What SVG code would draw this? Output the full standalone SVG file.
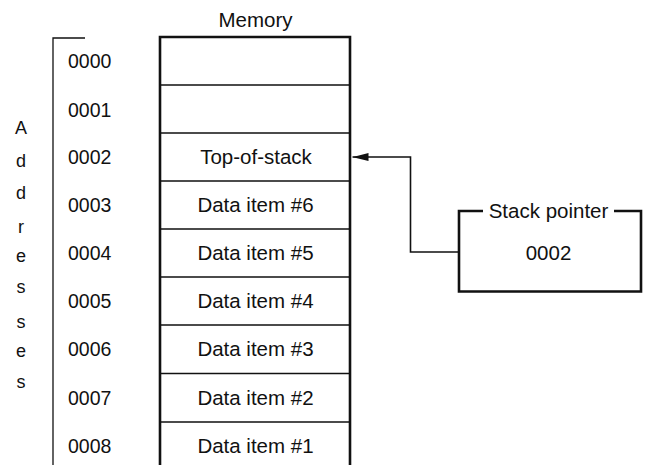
<svg xmlns="http://www.w3.org/2000/svg" width="650" height="465" viewBox="0 0 650 465">
<style>
text{font-family:"Liberation Sans",Arial,sans-serif;fill:#111;}
.t{font-size:20.5px;text-anchor:middle;}
.a{font-size:19.5px;}
.v{font-size:18px;text-anchor:middle;}
.thick{fill:none;stroke:#111;stroke-width:2.6;}
.thin{fill:none;stroke:#111;stroke-width:1.3;}
.conn{fill:none;stroke:#111;stroke-width:1.6;}
</style>
<defs>
<marker id="ah" markerWidth="16" markerHeight="10" refX="16" refY="5" orient="auto" markerUnits="userSpaceOnUse">
<path d="M0,1 L16,5 L0,9 Z" fill="#111"/>
</marker>
</defs>
<rect width="650" height="465" fill="#fff"/>
<text class="t" x="255.5" y="26.5">Memory</text>
<g id="addresses-label">
<path class="thin" d="M85,38 H53 V465"/>
<text class="v" x="21" y="134">A</text>
<text class="v" x="21" y="167">d</text>
<text class="v" x="21" y="199">d</text>
<text class="v" x="21" y="233">r</text>
<text class="v" x="21" y="262">e</text>
<text class="v" x="21" y="293">s</text>
<text class="v" x="21" y="328">s</text>
<text class="v" x="21" y="357">e</text>
<text class="v" x="21" y="388">s</text>
</g>
<g id="memory">
<path class="thick" d="M160,465 V37 H350 V465"/>
<path class="thin" d="M160,85 H350 M160,133 H350 M160,181 H350 M160,229 H350 M160,277 H350 M160,325 H350 M160,373.5 H350 M160,422 H350"/>
</g>
<g id="addr-0000"><text class="a" x="68" y="68">0000</text></g>
<g id="addr-0001"><text class="a" x="68" y="117">0001</text></g>
<g id="addr-0002"><text class="a" x="68" y="164">0002</text></g>
<g id="addr-0003"><text class="a" x="68" y="212">0003</text></g>
<g id="addr-0004"><text class="a" x="68" y="260">0004</text></g>
<g id="addr-0005"><text class="a" x="68" y="308">0005</text></g>
<g id="addr-0006"><text class="a" x="68" y="356">0006</text></g>
<g id="addr-0007"><text class="a" x="68" y="405">0007</text></g>
<g id="addr-0008"><text class="a" x="68" y="453">0008</text></g>
<g id="cell-0002"><text class="t" x="256" y="164">Top-of-stack</text></g>
<g id="cell-0003"><text class="t" x="255.5" y="212">Data item #6</text></g>
<g id="cell-0004"><text class="t" x="255.5" y="260">Data item #5</text></g>
<g id="cell-0005"><text class="t" x="255.5" y="308">Data item #4</text></g>
<g id="cell-0006"><text class="t" x="255.5" y="356">Data item #3</text></g>
<g id="cell-0007"><text class="t" x="255.5" y="405">Data item #2</text></g>
<g id="cell-0008"><text class="t" x="255.5" y="453">Data item #1</text></g>
<g id="stack-pointer">
<path class="thick" d="M483,211 H459 V291.5 H641 V211 H614"/>
<text class="t" x="548.5" y="217.5">Stack pointer</text>
<text class="t" x="548.5" y="260">0002</text>
</g>
<g id="connectors">
<path class="conn" d="M459,252 H410.5 V157 H352.5" marker-end="url(#ah)"/>
</g>
</svg>
